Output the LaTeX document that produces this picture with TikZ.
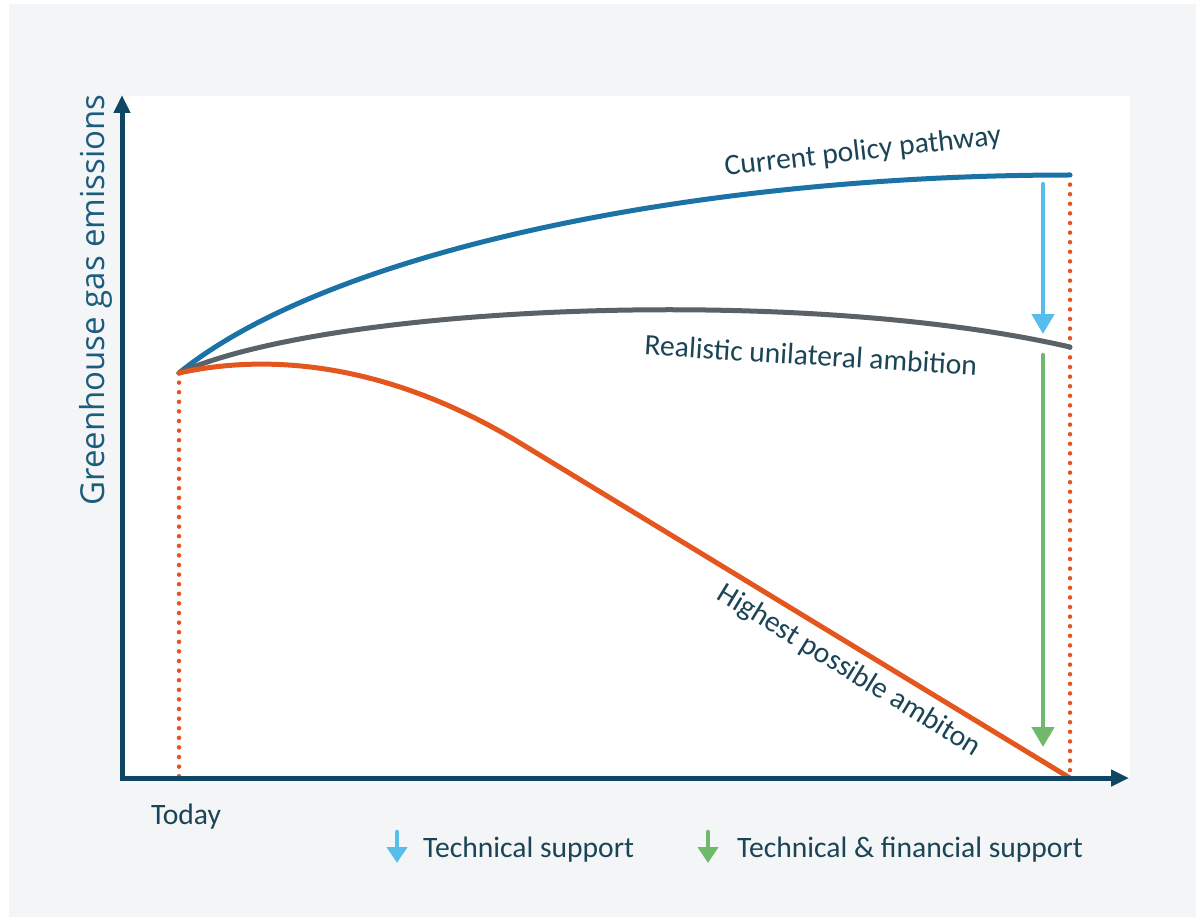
\documentclass[tikz,border=0pt]{standalone}
\usepackage{fontspec}
\setmainfont{Carlito}
\newfontfamily\axisfont{Open Sans}
\usetikzlibrary{arrows.meta}
\definecolor{bggrey}{HTML}{F3F5F7}
\definecolor{axisnavy}{HTML}{0E4663}
\definecolor{txt}{HTML}{1B4556}
\definecolor{axtxt}{HTML}{1C5C7C}
\definecolor{cpblue}{HTML}{1B72A6}
\definecolor{rugrey}{HTML}{5A6268}
\definecolor{hiorange}{HTML}{E3571E}
\definecolor{tsblue}{HTML}{57BEEB}
\definecolor{tfgreen}{HTML}{70B86C}
\tikzset{
  axisline/.style={axisnavy, line width=5pt, -{Triangle[length=18pt,width=16pt]}},
  pathline/.style={line width=5pt, line cap=round},
  dotline/.style={hiorange, line width=4.5pt, line cap=round, dash pattern=on 0pt off 9.6pt},
  supparrow/.style={line width=4.5pt, line cap=round, -{Triangle[length=20pt,width=22pt]}},
  legarrow/.style={line width=4.5pt, line cap=round, -{Triangle[length=16pt,width=20pt]}},
  lbl/.style={txt, font=\fontsize{29.6}{32}\selectfont, inner sep=0pt},
}
\begin{document}
\begin{tikzpicture}[x=1pt,y=-1pt]
\useasboundingbox (0,0) rectangle (1196,917);
\fill[white] (0,0) rectangle (1196,917);
\fill[bggrey] (9,4) rectangle (1196,917);
\fill[white] (122,96) rectangle (1130,778);
% key points
\coordinate (S) at (179,373);
\coordinate (Cend) at (1070,175);
\coordinate (Rend) at (1070,347);
\coordinate (Hend) at (1070,778);
\coordinate (Hmid) at (520,443);
\coordinate (Sfoot) at (179,778);
\coordinate (O) at (122,780.5);
\coordinate (Ytop) at (122,95);
\coordinate (Xstart) at (119.5,778);
\coordinate (Xend) at (1129,778);
% dotted verticals
\draw[dotline] (S) -- (Sfoot);
\draw[dotline] (Cend) -- (Hend);
% pathways
\draw[pathline, cpblue] (S) .. controls (330,250) and (700,175) .. (Cend);
\draw[pathline, rugrey] (S) .. controls (330,305) and (800,285) .. (Rend);
\draw[pathline, hiorange] (S) .. controls (260,355) and (380,358) .. (Hmid) -- (Hend);
% support arrows
\coordinate (TSa) at (1043,184);
\coordinate (TSb) at (1043,334);
\coordinate (TFa) at (1043,355);
\coordinate (TFb) at (1043,747);
\draw[supparrow, tsblue] (TSa) -- (TSb);
\draw[supparrow, tfgreen] (TFa) -- (TFb);
% axes
\draw[axisline] (O) -- (Ytop);
\draw[axisline] (Xstart) -- (Xend);
% labels
\node[lbl, rotate=6.5] (cpl) at (863,152) {Current policy pathway};
\node[lbl, rotate=-3.5] (rul) at (811,355) {Realistic unilateral ambition};
\node[lbl, rotate=-31.5] (hpl) at (849,671) {Highest possible ambiton};
\node[axtxt, font=\axisfont\fontsize{33}{36}\selectfont, rotate=90, inner sep=0pt] (yl) at (96,300) {Greenhouse gas emissions};
\node[lbl] (today) at (186,817) {Today};
% legend
\coordinate (L1a) at (397,832);
\coordinate (L1b) at (397,863);
\coordinate (L2a) at (708,832);
\coordinate (L2b) at (708,863);
\draw[legarrow, tsblue] (L1a) -- (L1b);
\draw[legarrow, tfgreen] (L2a) -- (L2b);
\node[lbl, anchor=west] (ts) at (423,850) {Technical support};
\node[lbl, anchor=west] (tf) at (737,850) {Technical \& financial support};
\end{tikzpicture}
\end{document}
